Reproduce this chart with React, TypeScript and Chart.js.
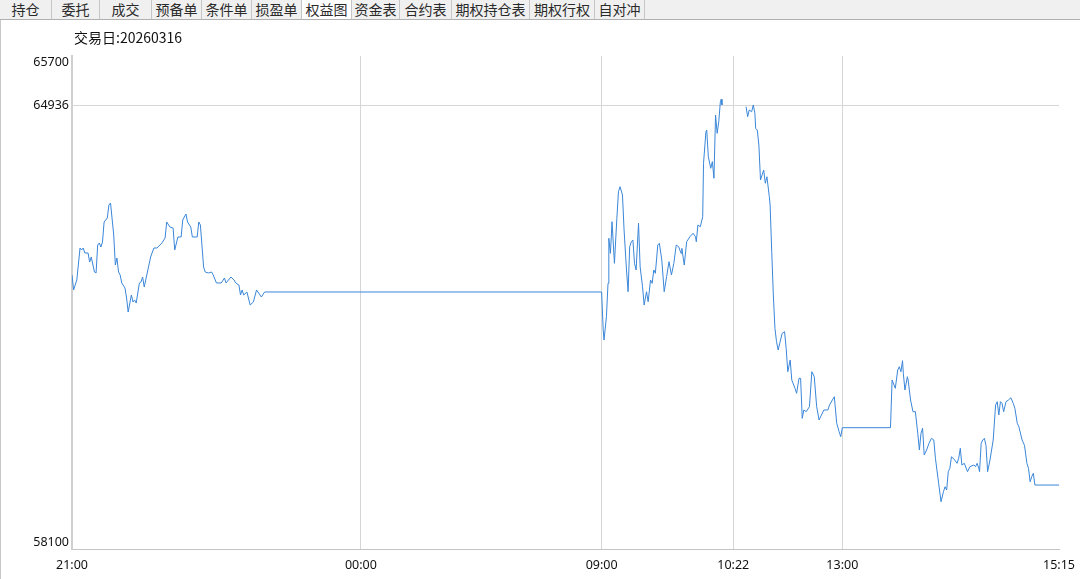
import React, { useEffect, useRef } from "react";
import { Chart, registerables } from "chart.js";

Chart.register(...registerables);

const tabLabels = ["持仓", "委托", "成交", "预备单", "条件单", "损盈单", "权益图", "资金表", "合约表", "期权持仓表", "期权行权", "自对冲"];
const activeTab = "权益图";
const tradeDate = "20260316";

const xTickTimes = ["21:00", "00:00", "09:00", "10:22", "13:00", "15:15"];
const yTickValues = [58100, 64936, 65700];
const yMin = 58100;
const yMax = 65700;

const nightTimes = ["21:00","21:01","21:03","21:05","21:06","21:07","21:08","21:10","21:11","21:12","21:14","21:15","21:16","21:17","21:18","21:19","21:20","21:22","21:23","21:24","21:26","21:27","21:28","21:29","21:30","21:31","21:33","21:34","21:35","21:37","21:38","21:39","21:40","21:42","21:43","21:44","21:45","21:47","21:49","21:51","21:53","21:56","21:58","21:59","22:01","22:03","22:04","22:06","22:08","22:09","22:11","22:12","22:14","22:15","22:18","22:19","22:20","22:22","22:23","22:25","22:27","22:28","22:30","22:33","22:35","22:36","22:39","22:41","22:42","22:44","22:45","22:46","22:47","22:49","22:51","22:53","22:55","22:58","23:00"];
const nightEquity = [62324,62093,62247,62740,62709,62740,62663,62663,62524,62601,62370,62355,62786,62817,62755,62833,63141,63203,63403,63434,62941,62478,62586,62370,62324,62201,62124,61970,61753,62016,61908,61939,61892,62201,62216,62293,62139,62370,62601,62740,62740,62817,62894,63141,63064,63048,62709,62910,62910,63172,63264,63141,63064,62910,62910,63141,63095,62447,62370,62355,62370,62324,62201,62201,62278,62201,62293,62247,62201,62170,62016,62093,62016,62062,61861,61908,62093,61985,62062];

const morningTimes = ["09:00:00","09:01:00","09:01:30","09:03:00","09:04:00","09:04:30","09:05:30","09:06:30","09:07:30","09:08:00","09:09:30","09:10:30","09:11:30","09:13:00","09:14:00","09:15:30","09:16:30","09:17:30","09:18:30","09:19:30","09:20:30","09:21:30","09:23:00","09:24:00","09:25:30","09:26:30","09:28:00","09:29:00","09:30:30","09:31:30","09:32:30","09:33:30","09:35:00","09:36:00","09:37:30","09:39:00","09:40:30","09:42:00","09:43:30","09:45:00","09:46:30","09:48:00","09:49:30","09:50:00","09:51:30","09:53:00","09:55:00","09:57:00","09:58:30","09:59:00","10:00:00","10:01:30","10:03:00","10:03:30","10:05:00","10:05:30","10:06:30","10:08:00","10:09:00","10:10:00","10:11:00","10:12:00","10:13:00","10:14:00","10:14:30","10:15:00"];
const morningEquity = [62062,61476,61322,61681,62196,62890,62658,63146,62709,62504,63198,63608,63685,63557,63018,62401,62066,62760,62837,62863,62504,62401,63121,62452,62143,61861,62066,61912,62247,62196,62401,62350,62786,62812,62555,62066,62298,62529,62324,62504,62786,62760,62658,62735,62478,62837,62914,62967,62914,62837,63095,63068,63223,64046,64533,64559,64148,63969,64071,63815,64790,64508,64687,64995,65033,64945];

const breakTime = "10:20:00";

const lateMorningTimes = ["10:30:00","10:31:00","10:32:00","10:33:30","10:34:30","10:35:30","10:36:00","10:37:00","10:38:00","10:39:00","10:40:00","10:41:00","10:42:00","10:43:00","10:44:30","10:45:00","10:46:00","10:47:00","10:48:00","10:49:00","10:50:00","10:51:00","10:52:30","10:54:00","10:55:00","10:56:00","10:57:30","10:58:30","11:00:30","11:01:30","11:03:00","11:04:00","11:05:00","11:06:00","11:07:30","11:09:30","11:11:00","11:12:30","11:14:00","11:15:30","11:17:00","11:18:30","11:21:00","11:22:00","11:25:00","11:26:30","11:28:00","11:29:00","11:30:00"];
const lateMorningEquity = [64918,64764,64868,64841,64945,64817,64585,64559,64328,63788,63866,63943,63738,63839,63531,63403,62683,62016,61502,61296,61168,61271,61425,61450,61194,60833,61014,60705,60577,60500,60731,60731,60115,60243,60217,60294,60833,60756,60294,60089,60166,60243,60243,60320,60448,60038,59908,59831,59970];

const afternoonTimes = ["13:00:00","13:30:00","13:31:00","13:33:00","13:34:30","13:35:30","13:36:30","13:37:30","13:38:00","13:39:00","13:40:30","13:41:00","13:42:30","13:44:00","13:45:30","13:47:00","13:48:00","13:49:00","13:50:00","13:51:00","13:52:30","13:54:00","13:55:30","13:57:00","13:58:00","14:00:00","14:01:30","14:03:00","14:04:00","14:05:00","14:06:00","14:07:00","14:08:00","14:10:00","14:11:30","14:12:30","14:13:30","14:14:30","14:16:00","14:18:00","14:19:30","14:22:00","14:23:00","14:24:00","14:25:00","14:25:30","14:26:30","14:27:30","14:28:30","14:29:30","14:30:30","14:32:00","14:34:00","14:35:30","14:36:30","14:37:30","14:38:30","14:39:30","14:40:30","14:42:00","14:43:30","14:45:00","14:46:30","14:47:30","14:49:00","14:50:00","14:52:00","14:53:30","14:55:00","14:56:00","14:57:00","14:58:00","14:59:00","15:00:00","15:15:00"];
const afternoonEquity = [59970,59970,60705,60577,60859,60910,60833,61003,60809,60551,60756,60705,60397,60217,60217,59883,59626,59883,59961,59549,59626,59729,59806,59780,59498,59113,58829,58983,59060,59009,59292,59344,59523,59472,59421,59498,59652,59395,59421,59292,59369,59395,59369,59421,59344,59292,59729,59780,59806,59698,59292,59472,59780,60320,60371,60166,60371,60346,60217,60371,60397,60432,60346,60269,60038,59985,59780,59698,59421,59344,59137,59214,59267,59086,59086];

// Session-compressed time axis: night 21:00-02:30, morning 09:00-11:30, afternoon 13:00-15:15
function axisMinute(t: string): number {
  const parts = t.split(":").map(Number);
  const h = parts[0];
  const m = parts[1] + (parts[2] || 0) / 60;
  if (h >= 21) return (h - 21) * 60 + m;
  if (h < 3) return 180 + h * 60 + m;
  if (h < 12) return 330 + (h - 9) * 60 + m;
  return 480 + (h - 13) * 60 + m;
}

const TAB_WIDTHS = [52, 48, 52, 50, 50, 50, 50, 48, 52, 78, 65, 50];

export default function App() {
  const canvasRef = useRef<HTMLCanvasElement | null>(null);

  useEffect(() => {
    const canvas = canvasRef.current;
    if (!canvas) return;
    const pts: { x: number; y: number | null }[] = [];
    const add = (ts: string[], vs: (number | null)[]) => ts.forEach((t, i) => pts.push({ x: axisMinute(t), y: vs[i] }));
    add(nightTimes, nightEquity);
    add(morningTimes, morningEquity);
    add([breakTime], [null]);
    add(lateMorningTimes, lateMorningEquity);
    add(afternoonTimes, afternoonEquity);

    const xTickVals = xTickTimes.map(axisMinute);
    const xMin = xTickVals[0];
    const xMax = xTickVals[xTickVals.length - 1];
    const labelFont = { family: "'Noto Sans', 'DejaVu Sans', sans-serif", size: 12.5 };

    const chart = new Chart(canvas, {
      type: "line",
      data: {
        datasets: [
          {
            data: pts as any,
            borderColor: "#3a86d8",
            borderWidth: 1,
            pointRadius: 0,
            pointHoverRadius: 0,
            tension: 0,
            spanGaps: false,
            fill: false,
          },
        ],
      },
      options: {
        animation: false,
        responsive: false,
        devicePixelRatio: 1,
        layout: { padding: { top: 36, right: 21, left: 0, bottom: 0 } },
        plugins: { legend: { display: false }, tooltip: { enabled: false }, title: { display: false } },
        scales: {
          x: {
            type: "linear",
            min: xMin,
            max: xMax,
            afterBuildTicks: (scale: any) => {
              scale.ticks = xTickVals.map((v) => ({ value: v }));
            },
            afterFit: (scale: any) => {
              scale.height = 30;
              scale.paddingLeft = 0;
              scale.paddingRight = 0;
            },
            ticks: {
              autoSkip: false,
              maxRotation: 0,
              padding: 9,
              color: "#111",
              font: labelFont,
              callback: (v: any) => {
                const i = xTickVals.indexOf(Number(v));
                return i >= 0 ? xTickTimes[i] : "";
              },
            },
            grid: {
              drawTicks: false,
              lineWidth: 1,
              color: (ctx: any) => {
                const v = ctx.tick ? ctx.tick.value : null;
                return v === xMin || v === xMax ? "rgba(0,0,0,0)" : "#d6d6d6";
              },
            },
            border: { display: true, color: "#c4c4c4", width: 1 },
          },
          y: {
            type: "linear",
            min: yMin,
            max: yMax,
            afterBuildTicks: (scale: any) => {
              scale.ticks = yTickValues.map((v) => ({ value: v }));
            },
            afterFit: (scale: any) => {
              scale.width = 72;
            },
            ticks: {
              padding: 3,
              color: "#111",
              font: { ...labelFont, lineHeight: 1 },
              callback: (v: any) => {
                const n = Number(v);
                if (n === yMax) return ["", String(n)];
                if (n === yMin) return [String(n), ""];
                return String(n);
              },
            },
            grid: {
              drawTicks: false,
              lineWidth: 1,
              color: (ctx: any) => {
                const v = ctx.tick ? ctx.tick.value : null;
                return v === yMin || v === yMax ? "rgba(0,0,0,0)" : "#d6d6d6";
              },
            },
            border: { display: true, color: "#d0d0d0", width: 2 },
          },
        },
      },
    });
    return () => chart.destroy();
  }, []);

  const cjk = "'Noto Sans CJK SC', 'Noto Sans', sans-serif";

  return (
    <div
      style={{
        position: "fixed",
        left: 0,
        top: 0,
        width: 1080,
        height: 579,
        background: "#fff",
        overflow: "hidden",
      }}
    >
      <canvas
        ref={canvasRef}
        width={1080}
        height={559}
        style={{ position: "absolute", left: 0, top: 20, width: 1080, height: 559 }}
      />
      <div style={{ position: "absolute", left: 0, top: 0, width: 1, height: 579, background: "#c8c8c8" }} />
      <div
        style={{
          position: "absolute",
          left: 0,
          top: 0,
          width: 1080,
          height: 20,
          background: "#f0f0f0",
          borderBottom: "1px solid #b0b0b0",
          boxSizing: "border-box",
          display: "flex",
        }}
      >
        {tabLabels.map((t, i) => (
          <div
            key={t}
            style={{
              width: TAB_WIDTHS[i],
              height: 19,
              boxSizing: "border-box",
              borderRight: "1px solid #c6c6c6",
              background: t === activeTab ? "#ffffff" : "#f0f0f0",
              display: "flex",
              alignItems: "center",
              justifyContent: "center",
              fontFamily: cjk,
              fontSize: 14,
              lineHeight: "19px",
              color: "#2a2a2a",
              whiteSpace: "nowrap",
            }}
          >
            {t}
          </div>
        ))}
      </div>
      <div
        style={{
          position: "absolute",
          left: 74,
          top: 27,
          fontFamily: cjk,
          fontSize: 14,
          lineHeight: "20px",
          color: "#111",
          whiteSpace: "nowrap",
        }}
      >
        交易日:{tradeDate}
      </div>
    </div>
  );
}
